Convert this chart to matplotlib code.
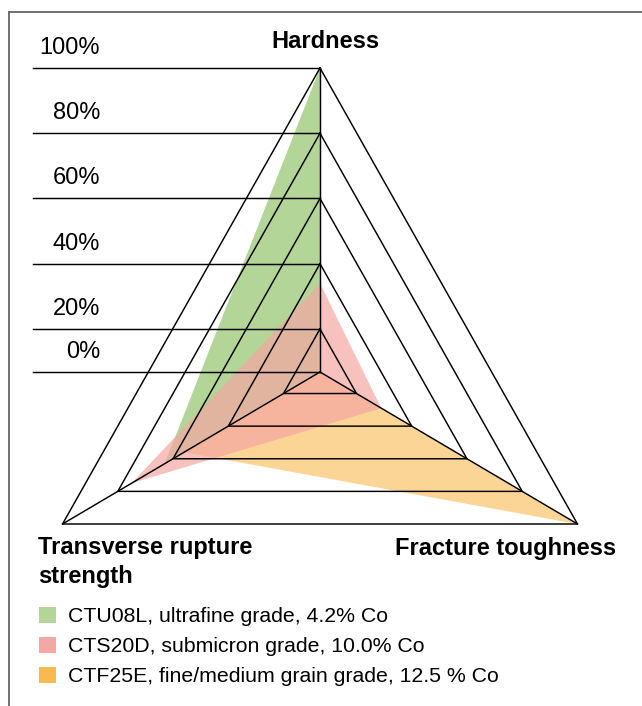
import numpy as np
import matplotlib.pyplot as plt
from matplotlib.lines import Line2D
from matplotlib.patches import Patch

plt.rcParams['font.family'] = ['Liberation Sans', 'DejaVu Sans']

# property axes and the percentage levels of the grid
axis_names = ["Hardness", "Transverse rupture\nstrength", "Fracture toughness"]
levels = [0, 20, 40, 60, 80, 100]

# grades and their ratings (Hardness, TRS, Fracture toughness) in %
grades = ["CTU08L, ultrafine grade, 4.2% Co",
          "CTS20D, submicron grade, 10.0% Co",
          "CTF25E, fine/medium grain grade, 12.5 % Co"]
ctu08l = [100, 63, 0]
cts20d = [34, 75, 29]
ctf25e = [0, 56, 100]
colors = ["#b3d597", "#f4a7a3", "#f9b94f"]

angles = np.deg2rad([90, 210, 330])
P0 = 6.8  # rating that falls on the centre point


def radius(p):
    return np.clip((np.asarray(p, dtype=float) - P0) / (100 - P0), 0, None)


def corners(values, close=False):
    r = radius(values)
    x, y = r * np.cos(angles), r * np.sin(angles)
    if close:
        x, y = np.append(x, x[0]), np.append(y, y[0])
    return x, y


W, H = 642, 706
fig = plt.figure(figsize=(W / 100, H / 100), dpi=100)
ax = fig.add_axes([0, 0, 1, 1])
ax.axis('off')

# centre at (320, 372) px, outer radius 304 px, slightly narrower in x
cx, cy, R, sx = 320, 372, 304, 0.978
ax.set_xlim(-cx / (R * sx), (W - cx) / (R * sx))
ax.set_ylim(-(H - cy) / R, cy / R)

# filled grades: green underneath, then orange, pink on top
for vals, col, alpha, z in [(ctu08l, colors[0], 1.0, 1),
                            (ctf25e, colors[2], 0.6, 2),
                            (cts20d, colors[1], 0.7, 3)]:
    x, y = corners(vals)
    ax.fill(x, y, color=col, alpha=alpha, lw=0, zorder=z)

# triangular grid and spokes
for p in levels[1:]:
    x, y = corners([p] * 3, close=True)
    ax.plot(x, y, color='black', lw=1.05, zorder=5)
ox, oy = corners([100] * 3)
for x, y in zip(ox, oy):
    ax.plot([0, x], [0, y], color='black', lw=1.05, zorder=5)

# percentage scale on the left, led out from the hardness spoke
x_line = (33 - cx) / (R * sx)
x_lab = (100 - cx) / (R * sx)
for p in levels:
    yv = float(radius(p))
    ax.plot([x_line, 0], [yv, yv], color='black', lw=1.05, zorder=5)
    ax.text(x_lab, yv + 20 / R, f"{p}%", ha='right', va='center', fontsize=17)

# axis titles
fig.text(325 / W, 1 - 42 / H, axis_names[0], ha='center', va='center',
         fontsize=17, fontweight='bold')
fig.text(38 / W, 1 - 536 / H, axis_names[1], ha='left', va='top',
         fontsize=17, fontweight='bold', linespacing=1.36)
fig.text(395 / W, 1 - 548 / H, axis_names[2], ha='left', va='center',
         fontsize=17, fontweight='bold')

# legend
handles = [Patch(facecolor=c, edgecolor='none') for c in colors]
fig.legend(handles, grades, loc='upper left', bbox_to_anchor=(30 / W, 1 - 598 / H),
           frameon=False, fontsize=15.3, handlelength=0.8, handleheight=0.8,
           handletextpad=0.6, labelspacing=0.5, borderaxespad=0)

# outer frame (open on the right and bottom)
frame = dict(transform=fig.transFigure, color='#666666', lw=1.3)
fig.add_artist(Line2D([9 / W, 9 / W], [0, 1 - 12 / H], **frame))
fig.add_artist(Line2D([9 / W, 1], [1 - 12 / H, 1 - 12 / H], **frame))

fig.savefig('out.png', dpi=100, facecolor='white')
